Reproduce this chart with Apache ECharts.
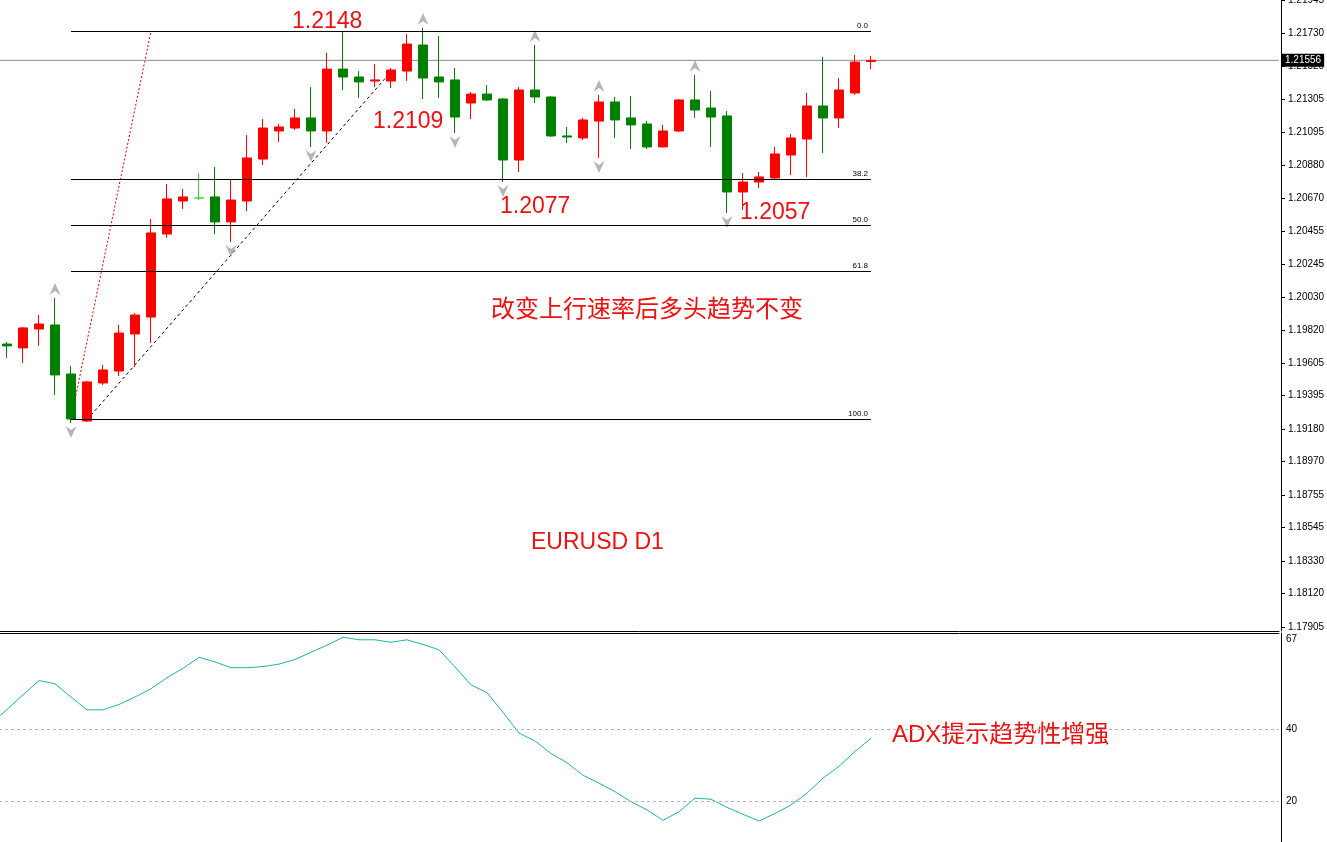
<!DOCTYPE html>
<html><head><meta charset="utf-8">
<script src="https://cdn.jsdelivr.net/npm/echarts@6/dist/echarts.min.js"></script>
<style>html,body{margin:0;padding:0;background:#fff}#c{width:1327px;height:842px}</style>
</head><body><div id="c"></div>
<script>
// ---- data ----
const opens  = [1.19728,1.19703,1.19825,1.19851,1.19535,1.19232,1.19477,1.19554,1.19793,1.19902,
                1.20437,1.20650,1.20669,1.20676,1.20515,1.20650,1.20920,1.21101,1.21120,1.21185,
                1.21101,1.21500,1.21449,1.21423,1.21423,1.21487,1.21655,1.21449,1.21430,1.21281,
                1.21339,1.21307,1.20914,1.21365,1.21320,1.21069,1.21056,1.21165,1.21288,1.21185,
                1.21146,1.20998,1.21101,1.21301,1.21249,1.21198,1.20708,1.20772,1.20798,1.20946,
                1.21049,1.21262,1.21185,1.21346,1.21549];
const closes = [1.19716,1.19832,1.19857,1.19529,1.19245,1.19484,1.19561,1.19799,1.19915,1.20444,
                1.20663,1.20676,1.20669,1.20515,1.20656,1.20927,1.21120,1.21127,1.21185,1.21101,
                1.21500,1.21449,1.21417,1.21430,1.21494,1.21661,1.21442,1.21417,1.21191,1.21339,
                1.21301,1.20914,1.21365,1.21320,1.21069,1.21062,1.21172,1.21288,1.21172,1.21140,
                1.20998,1.21101,1.21301,1.21236,1.21191,1.20708,1.20772,1.20805,1.20953,1.21056,
                1.21262,1.21185,1.21365,1.21545,1.21556];
const lows   = [1.19638,1.19606,1.19716,1.19400,1.19219,1.19226,1.19464,1.19522,1.19580,1.19735,
                1.20412,1.20598,1.20656,1.20437,1.20386,1.20585,1.20882,1.21030,1.21107,1.20998,
                1.21024,1.21365,1.21314,1.21384,1.21378,1.21423,1.21307,1.21314,1.21088,1.21178,
                1.21294,1.20772,1.20837,1.21281,1.21062,1.21024,1.21043,1.20927,1.21056,1.20985,
                1.20985,1.20995,1.21094,1.21185,1.20998,1.20573,1.20592,1.20734,1.20792,1.20817,
                1.20805,1.20959,1.21120,1.21333,1.21500];
const highs  = [1.19741,1.19838,1.19915,1.20025,1.19587,1.19490,1.19593,1.19851,1.19928,1.20534,
                1.20759,1.20727,1.20830,1.20869,1.20785,1.21075,1.21178,1.21146,1.21243,1.21384,
                1.21604,1.21745,1.21487,1.21533,1.21507,1.21726,1.21765,1.21713,1.21507,1.21352,
                1.21397,1.21314,1.21384,1.21655,1.21326,1.21127,1.21185,1.21333,1.21320,1.21326,
                1.21165,1.21140,1.21307,1.21462,1.21359,1.21230,1.20830,1.20837,1.20998,1.21082,
                1.21346,1.21578,1.21442,1.21591,1.21584];
const dojiBars = [12];
const totalBars = 80;

const adxBefore = 41.6; // bar just before the first visible bar
const adx = [45.6,49.7,53.7,52.8,49.1,45.5,45.5,47.0,49.1,51.4,
             54.5,57.1,60.2,58.9,57.3,57.3,57.6,58.3,59.6,61.6,
             63.6,65.8,65.1,65.1,64.4,65.1,63.8,62.3,57.5,52.5,
             50.3,44.8,39.0,36.8,33.3,30.7,27.2,25.0,22.6,19.8,
             17.5,14.6,17.0,20.8,20.5,18.2,16.3,14.4,16.5,18.9,
             22.2,26.4,29.7,33.9,37.5];
const adxLevels = [40, 20];

const priceTicks = [1.21945,1.21730,1.21520,1.21305,1.21095,1.20880,1.20670,1.20455,1.20245,1.20030,
                    1.19820,1.19605,1.19395,1.19180,1.18970,1.18755,1.18545,1.18330,1.18120,1.17905];
const adxTicks = [20, 40, 67];

const fibLevels = [0, 38.2, 50, 61.8, 100];
const fibLabels = ['0.0','38.2','50.0','61.8','100.0'];
const fibHigh = 1.21745, fibLow = 1.19245, fibFromBar = 4, fibToBar = 54;

const fractalUpBars = [3, 26, 33, 37, 43];
const fractalDownBars = [4, 14, 19, 28, 31, 37, 45];

const redTrend = [[4, 1.19245], [9, 1.21745]];
const blackTrend = [[5, 1.19240], [24, 1.21483]];
const lastPrice = 1.21556;

// ---- chart ----
const cats = Array.from({length: totalBars}, (_, i) => String(i));
const candleData = cats.map((_, i) => {
  if (i >= opens.length) return '-';
  const item = { value: [opens[i], closes[i], lows[i], highs[i]] };
  if (dojiBars.includes(i)) item.itemStyle = { color: '#2fd02f', color0: '#2fd02f', borderColor: '#2fd02f', borderColor0: '#2fd02f' };
  return item;
});
const fibPrice = lv => fibHigh - (fibHigh - fibLow) * lv / 100;

const chart = echarts.init(document.getElementById('c'), null, { renderer: 'canvas' });
const latin = '"Liberation Sans", Arial, sans-serif';
const cjk = '"Liberation Sans", "Noto Sans CJK SC", sans-serif';
const hiddenX = { show: false, axisLine: { show: false }, axisTick: { show: false }, axisLabel: { show: false }, splitLine: { show: false }, splitArea: { show: false } };
chart.setOption({
  animation: false,
  backgroundColor: '#ffffff',
  grid: [
    { left: -1, top: 0, width: 1280, height: 631, outerBoundsMode: 'none', containLabel: false },
    { left: -1, top: 633, width: 1280, height: 209, outerBoundsMode: 'none', containLabel: false }
  ],
  xAxis: [
    { type: 'category', gridIndex: 0, data: cats, boundaryGap: true, position: 'bottom',
      axisLine: { show: true, onZero: false, lineStyle: { color: '#000', width: 1 } }, axisTick: { show: false }, axisLabel: { show: false },
      splitLine: { show: false }, splitArea: { show: false } },
    Object.assign({ type: 'value', gridIndex: 0, min: -0.5, max: totalBars - 0.5 }, hiddenX),
    { type: 'value', gridIndex: 1, min: -0.5, max: totalBars - 0.5, position: 'top',
      axisLine: { show: true, onZero: false, lineStyle: { color: '#000', width: 1 } }, axisTick: { show: false }, axisLabel: { show: false },
      minorTick: { show: false }, splitLine: { show: false }, splitArea: { show: false } }
  ],
  yAxis: [
    { type: 'value', gridIndex: 0, position: 'right', offset: 2, min: 1.17879, max: 1.21945,
      axisLine: { show: true, onZero: false, lineStyle: { color: '#000', width: 1 } },
      axisTick: { show: true, length: 4, inside: false, customValues: priceTicks, lineStyle: { color: '#000' } },
      axisLabel: { customValues: priceTicks, formatter: v => v.toFixed(5), fontSize: 10, color: '#000', margin: 7, fontFamily: latin },
      splitLine: { show: false } },
    { type: 'value', gridIndex: 1, position: 'right', offset: 2, min: 8.53, max: 67,
      axisLine: { show: true, onZero: false, lineStyle: { color: '#000', width: 1 } },
      axisTick: { show: false },
      axisLabel: { customValues: adxTicks, margin: 5, fontFamily: latin, color: '#000', fontSize: 10,
        formatter: v => v === 67 ? '{t|67}' : '{n|' + v + '}',
        rich: { t: { padding: [13, 0, 0, 0], fontSize: 10, color: '#000', fontFamily: latin }, n: { fontSize: 10, color: '#000', fontFamily: latin } } },
      splitLine: { show: false } }
  ],
  series: [
    { type: 'line', xAxisIndex: 1, yAxisIndex: 0, data: redTrend, z: 1, silent: true, symbol: 'none',
      lineStyle: { color: '#e00000', width: 1, type: [2, 2] },
      markLine: { symbol: 'none', silent: true, animation: false,
        lineStyle: { color: '#000', width: 1, type: 'solid' },
        label: { show: true, position: 'insideEndTop', formatter: p => p.name, fontSize: 8, color: '#000', fontFamily: latin, distance: [3, 1] },
        data: fibLevels.map((lv, k) => [{ coord: [fibFromBar, fibPrice(lv)], name: fibLabels[k] }, { coord: [fibToBar, fibPrice(lv)] }]) } },
    { type: 'line', xAxisIndex: 1, yAxisIndex: 0, data: blackTrend, z: 1, silent: true, symbol: 'none',
      lineStyle: { color: '#000', width: 1, type: [3, 3] } },
    { type: 'line', xAxisIndex: 1, yAxisIndex: 0, z: 1, silent: true, symbol: 'none',
      data: [[-0.5, lastPrice], [totalBars - 0.5, lastPrice]],
      lineStyle: { color: '#8c8c8c', width: 1, type: 'solid' },
      endLabel: { show: true, formatter: () => lastPrice.toFixed(5), color: '#fff', backgroundColor: '#000',
        padding: [2, 3, 1, 3], fontSize: 10, fontFamily: latin, distance: 3 } },
    { type: 'candlestick', xAxisIndex: 0, yAxisIndex: 0, data: candleData, barWidth: 10, z: 3, silent: true,
      itemStyle: { color: '#ff0000', color0: '#008000', borderColor: '#ff0000', borderColor0: '#008000', borderWidth: 1 } },
    { type: 'scatter', xAxisIndex: 1, yAxisIndex: 0, z: 4, silent: true,
      data: fractalUpBars.map(i => [i, highs[i]]),
      symbol: 'path://M5,0 L10,12 L5,8 L0,12 Z', symbolSize: [11, 12], symbolOffset: [0, -9],
      itemStyle: { color: '#a2a2a2' } },
    { type: 'scatter', xAxisIndex: 1, yAxisIndex: 0, z: 4, silent: true,
      data: fractalDownBars.map(i => [i, lows[i]]),
      symbol: 'path://M0,0 L5,4 L10,0 L5,12 Z', symbolSize: [11, 12], symbolOffset: [0, 9],
      itemStyle: { color: '#a2a2a2' } },
    { type: 'line', xAxisIndex: 2, yAxisIndex: 1, silent: true, symbol: 'none',
      data: [[-1, adxBefore]].concat(adx.map((v, i) => [i, v])),
      lineStyle: { color: '#20b2aa', width: 1 },
      markLine: { symbol: 'none', silent: true, animation: false,
        lineStyle: { color: '#b4b4b4', width: 1, type: [3, 3] }, label: { show: false },
        data: adxLevels.map(v => ({ yAxis: v })) } }
  ],
  graphic: [
    { type: 'text', x: 292, y: 22, silent: true, style: { text: '1.2148', font: '23px ' + latin, fill: '#ee1111', align: 'left', verticalAlign: 'middle' } },
    { type: 'text', x: 373, y: 122, silent: true, style: { text: '1.2109', font: '23px ' + latin, fill: '#ee1111', align: 'left', verticalAlign: 'middle' } },
    { type: 'text', x: 500, y: 207, silent: true, style: { text: '1.2077', font: '23px ' + latin, fill: '#ee1111', align: 'left', verticalAlign: 'middle' } },
    { type: 'text', x: 740, y: 213, silent: true, style: { text: '1.2057', font: '23px ' + latin, fill: '#ee1111', align: 'left', verticalAlign: 'middle' } },
    { type: 'text', x: 491, y: 308, silent: true, style: { text: '改变上行速率后多头趋势不变', font: '24px "Noto Sans CJK SC", sans-serif', fill: '#ee1111', align: 'left', verticalAlign: 'middle' } },
    { type: 'text', x: 531, y: 543, silent: true, style: { text: 'EURUSD D1', font: '23px ' + latin, fill: '#ee1111', align: 'left', verticalAlign: 'middle' } },
    { type: 'text', x: 892, y: 735, silent: true, style: { text: 'ADX提示趋势性增强', font: '24px ' + cjk, fill: '#ee1111', align: 'left', verticalAlign: 'middle' } }
  ]
});
</script>
</body></html>
